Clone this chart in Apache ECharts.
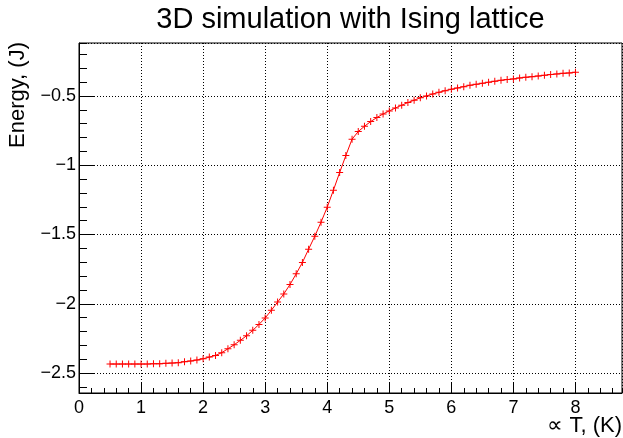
<!DOCTYPE html>
<html>
<head>
<meta charset="utf-8">
<script src="https://cdn.jsdelivr.net/npm/echarts@6/dist/echarts.min.js"></script>
<style>
  html, body { margin: 0; padding: 0; background: #fff; }
  #main { width: 623px; height: 438px; }
</style>
</head>
<body>
<div id="main"></div>
<script>
// temperature (x) and energy (y)
const temps = [
  0.5, 0.6, 0.7, 0.8, 0.9, 1.0, 1.1, 1.2, 1.3, 1.4,
  1.5, 1.6, 1.7, 1.8, 1.9, 2.0, 2.1, 2.2, 2.3, 2.4,
  2.5, 2.6, 2.7, 2.8, 2.9, 3.0, 3.1, 3.2, 3.3, 3.4,
  3.5, 3.6, 3.7, 3.8, 3.9, 4.0, 4.1, 4.2, 4.3, 4.4,
  4.5, 4.6, 4.7, 4.8, 4.9, 5.0, 5.1, 5.2, 5.3, 5.4,
  5.5, 5.6, 5.7, 5.8, 5.9, 6.0, 6.1, 6.2, 6.3, 6.4,
  6.5, 6.6, 6.7, 6.8, 6.9, 7.0, 7.1, 7.2, 7.3, 7.4,
  7.5, 7.6, 7.7, 7.8, 7.9, 8.0
]
const energy = [
  -2.435, -2.435, -2.435, -2.435, -2.435, -2.435, -2.435, -2.433, -2.433, -2.430,
  -2.428, -2.425, -2.418, -2.413, -2.406, -2.397, -2.385, -2.373, -2.353, -2.325,
  -2.296, -2.264, -2.231, -2.192, -2.149, -2.103, -2.046, -1.988, -1.929, -1.861,
  -1.784, -1.702, -1.606, -1.512, -1.411, -1.303, -1.180, -1.053, -0.930, -0.812,
  -0.757, -0.719, -0.685, -0.656, -0.630, -0.608, -0.587, -0.567, -0.548, -0.531,
  -0.514, -0.500, -0.486, -0.474, -0.462, -0.452, -0.442, -0.433, -0.423, -0.416,
  -0.409, -0.401, -0.394, -0.387, -0.382, -0.377, -0.370, -0.365, -0.361, -0.356,
  -0.351, -0.346, -0.341, -0.337, -0.334, -0.329
]

const titleText = '3D simulation with Ising lattice'
const xTitle = '\u221D T, (K)'
const yTitle = 'Energy, (J)'

const FONT = '"Liberation Sans", Arial, Helvetica, sans-serif'
const xMin = 0, xMax = 8.75
const yMin = -2.644, yMax = -0.118

const fmtY = v => {
  const r = Math.round(v * 2) / 2
  if (Math.abs(r - v) > 1e-6) return ''
  return String(r).replace('-', '\u2212')
}

const chart = echarts.init(document.getElementById('main'), null, {renderer: 'canvas'})

const option = {
  animation: false,
  backgroundColor: '#fff',
  grid: {
    left: 79, right: 1, top: 43, bottom: 45,
    show: true, borderColor: '#000', borderWidth: 1
  },
  xAxis: [
    {
      type: 'value', position: 'bottom', min: xMin, max: xMax, interval: 1,
      axisLine: {show: true, onZero: false, lineStyle: {color: '#000', width: 1}},
      axisTick: {show: true, inside: true, length: 10, interval: 0, lineStyle: {color: '#000'}},
      axisLabel: {
        show: true, margin: 6, color: '#000', fontSize: 18, fontFamily: FONT,
        showMaxLabel: false,
        formatter: v => (Math.abs(v - Math.round(v)) < 1e-6 ? String(Math.round(v)) : '')
      },
      splitLine: {show: true, lineStyle: {color: '#000', type: [1, 2], width: 1}}
    },
    {
      type: 'value', position: 'bottom', offset: 0, min: xMin, max: xMax, interval: 0.2,
      axisLine: {show: false},
      axisTick: {show: true, inside: true, length: 5, interval: 0, lineStyle: {color: '#000'}},
      axisLabel: {show: false},
      splitLine: {show: false}
    }
  ],
  yAxis: [
    {
      type: 'value', position: 'left', min: yMin, max: yMax, splitNumber: 5,
      axisLine: {show: true, onZero: false, lineStyle: {color: '#000', width: 1}},
      axisTick: {show: true, inside: true, length: 16, interval: 0, lineStyle: {color: '#000'}},
      axisLabel: {
        show: true, margin: 3, color: '#000', fontSize: 18, fontFamily: FONT,
        showMinLabel: false, showMaxLabel: false,
        formatter: fmtY
      },
      splitLine: {show: true, lineStyle: {color: '#000', type: [1, 2], width: 1}}
    },
    {
      type: 'value', position: 'left', offset: 0, min: yMin, max: yMax, splitNumber: 25,
      axisLine: {show: false},
      axisTick: {show: true, inside: true, length: 8, interval: 0, lineStyle: {color: '#000'}},
      axisLabel: {show: false},
      splitLine: {show: false}
    }
  ],
  graphic: [
    {
      type: 'text', x: 350.5, y: 20,
      style: {text: titleText, fill: '#000', font: '29px ' + FONT, align: 'center', verticalAlign: 'middle'}
    },
    {
      type: 'text', x: 622, y: 426,
      style: {text: xTitle, fill: '#000', font: '22px ' + FONT, align: 'right', verticalAlign: 'middle'}
    },
    {
      type: 'text', x: 18, y: 42, rotation: Math.PI / 2,
      style: {text: yTitle, fill: '#000', font: '22px ' + FONT, align: 'right', verticalAlign: 'middle'}
    }
  ],
  series: [
    {
      type: 'line',
      xAxisIndex: 0, yAxisIndex: 0,
      data: temps.map((t, i) => [t, energy[i]]),
      showAllSymbol: true,
      symbol: 'path://M0,3H7V4H0Z M3,0H4V7H3Z',
      symbolSize: 7,
      itemStyle: {color: '#ff0000'},
      lineStyle: {color: '#ff0000', width: 1},
      z: 5
    }
  ]
}

chart.setOption(option)
</script>
</body>
</html>
